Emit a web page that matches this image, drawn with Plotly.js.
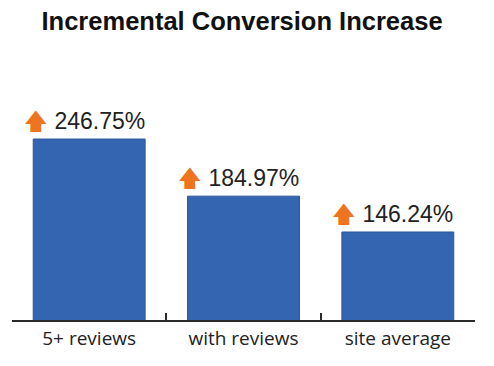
<!DOCTYPE html>
<html>
<head>
<meta charset="utf-8">
<script src="https://cdn.plot.ly/plotly-3.0.1.min.js"></script>
<style>html,body{margin:0;padding:0;background:#fff;}#chart{width:494px;height:366px;}</style>
</head>
<body>
<div id="chart"></div>
<script>
const categories = ["5+ reviews", "with reviews", "site average"];
const values = [246.75, 184.97, 146.24];
const valueLabels = ["246.75%", "184.97%", "146.24%"];

const annotations = categories.map((c, i) => ({
  x: c, y: values[i], xref: 'x', yref: 'y',
  yanchor: 'bottom', xanchor: 'center', yshift: 3, xshift: -5,
  showarrow: false,
  text: '<span style="color:#ef7420;font-family:DejaVu Sans">🡅</span> ' + valueLabels[i],
  font: {family: 'Liberation Sans, Arial, sans-serif', size: 23, color: '#222'}
}));

Plotly.newPlot('chart', [{
  type: 'bar',
  x: categories,
  y: values,
  marker: {color: '#3465b0', line: {color: '#2c5698', width: 1}},
  hoverinfo: 'none'
}], {
  width: 494, height: 366,
  margin: {l: 12, r: 19, t: 40, b: 46},
  paper_bgcolor: '#fff', plot_bgcolor: '#fff',
  bargap: 0.275,
  showlegend: false,
  title: {text: '<b>Incremental Conversion Increase</b>', x: 0.49, xanchor: 'center', y: 0.968, yanchor: 'top',
          font: {family: 'Liberation Sans, Arial, sans-serif', size: 25.5, color: '#111'}},
  xaxis: {
    showline: true, linecolor: '#2a2a2a', linewidth: 2,
    ticks: 'inside', tickson: 'boundaries', ticklen: 7, tickwidth: 2, tickcolor: '#2a2a2a',
    showgrid: false, zeroline: false,
    tickfont: {family: 'Open Sans, sans-serif', size: 19, color: '#222'}
  },
  yaxis: {range: [51.1, 353.8], visible: false, showgrid: false, zeroline: false},
  annotations: annotations
}, {staticPlot: true});
</script>
</body>
</html>
